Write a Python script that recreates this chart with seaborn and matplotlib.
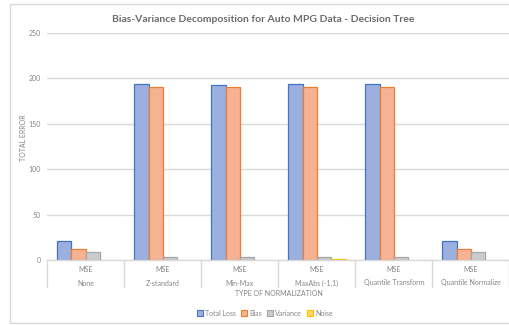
import matplotlib
matplotlib.use("Agg")
import matplotlib.pyplot as plt
import matplotlib.transforms as mtransforms
from matplotlib.patches import Patch, Rectangle
import pandas as pd
import seaborn as sns

# ---- data -------------------------------------------------------------
normalizations = ["None", "Z-standard", "Min-Max", "MaxAbs (-1,1)",
                  "Quantile Transform", "Quantile Normalize"]
metric_label = "MSE"
components = ["Total Loss", "Bias", "Variance", "Noise"]
total_loss = [20.9, 193.1, 192.6, 193.4, 193.2, 20.9]
bias = [12.1, 190.5, 189.8, 190.3, 190.2, 12.1]
variance = [9.0, 2.8, 2.9, 3.0, 3.0, 9.0]
noise = [0.0, 0.0, 0.0, 0.6, 0.0, 0.0]
y_ticks = [0, 50, 100, 150, 200, 250]

# ---- styling ----------------------------------------------------------
fill_colors = ["#9CB0E0", "#F6B394", "#CBCBCB", "#FFD966"]
edge_colors = ["#4472C4", "#ED7D31", "#A5A5A5", "#FFC000"]
title_gray = "#6B6B6B"
text_gray = "#858585"
grid_gray = "#D9D9D9"

df = pd.DataFrame({
    "Normalization": normalizations * 4,
    "Component": sum([[c] * len(normalizations) for c in components], []),
    "Error": total_loss + bias + variance + noise,
})

sns.set_theme(style="white")
plt.rcParams["font.family"] = ["Lato", "DejaVu Sans"]

W, H = 509, 325
fig = plt.figure(figsize=(W / 100, H / 100), dpi=100)


def fx(x):
    return x / W


def fy(y):
    return 1 - y / H


# plot area in pixel coordinates
left, right, top, bottom = 47.3, 509.5, 32.7, 260.0
ax = fig.add_axes([fx(left), fy(bottom), fx(right - left), (bottom - top) / H])

sns.barplot(data=df, x="Normalization", y="Error", hue="Component",
            order=normalizations, hue_order=components,
            palette=fill_colors, saturation=1, width=0.745, dodge=True,
            gap=0, legend=False, ax=ax)

for cont, ec in zip(ax.containers, edge_colors):
    for bar in cont:
        if bar.get_height() <= 0:
            bar.set_visible(False)
        bar.set_edgecolor(ec)
        bar.set_linewidth(0.9)

ax.set_xlim(-0.5, len(normalizations) - 0.5)
ax.set_ylim(0, 250)
ax.set_yticks(y_ticks)
ax.set_yticklabels([str(t) for t in y_ticks], fontsize=5, color=text_gray)
ax.tick_params(axis="y", length=0, pad=4.5)
ax.yaxis.grid(True, color=grid_gray, linewidth=1)
ax.set_axisbelow(True)
for s in ["top", "right", "left"]:
    ax.spines[s].set_visible(False)
ax.spines["bottom"].set_color(grid_gray)
ax.spines["bottom"].set_linewidth(1)

# two-level category axis
ax.set_xticks([])
ax.set_xlabel("")
ax.set_ylabel("")
trans = mtransforms.blended_transform_factory(ax.transData, fig.transFigure)
for i in range(len(normalizations) + 1):
    ax.plot([i - 0.5, i - 0.5], [fy(bottom), fy(287)], color=grid_gray,
            linewidth=1, transform=trans, clip_on=False)
for i, name in enumerate(normalizations):
    ax.text(i, fy(269), metric_label, transform=trans, ha="center",
            va="center", fontsize=5, color=text_gray)
    ax.text(i, fy(283), name, transform=trans, ha="center", va="center",
            fontsize=5, color=text_gray)

fig.text(fx((left + right) / 2), fy(293), "TYPE OF NORMALIZATION",
         ha="center", va="center", fontsize=5, color=text_gray)
fig.text(fx(24), fy(138), "TOTAL ERROR", rotation=90,
         ha="center", va="center", fontsize=5, color=text_gray)
fig.text(fx(263.5), fy(19), "Bias-Variance Decomposition for Auto MPG Data - Decision Tree",
         ha="center", va="center", fontsize=7.5, fontweight="bold",
         color=title_gray)

handles = [Patch(facecolor=f, edgecolor=e, linewidth=0.8, label=c)
           for f, e, c in zip(fill_colors, edge_colors, components)]
fig.legend(handles=handles, loc="center", bbox_to_anchor=(fx(265), fy(313)),
           ncol=4, frameon=False, fontsize=5, handlelength=0.8,
           handleheight=0.8, handletextpad=0.3, columnspacing=0.8,
           labelcolor=text_gray)

# chart frame
fig.patches.append(Rectangle((fx(10), fy(323)), fx(520 - 10), (323 - 4) / H,
                             transform=fig.transFigure, fill=False,
                             edgecolor=grid_gray, linewidth=1))

fig.savefig("out.png", dpi=100)
